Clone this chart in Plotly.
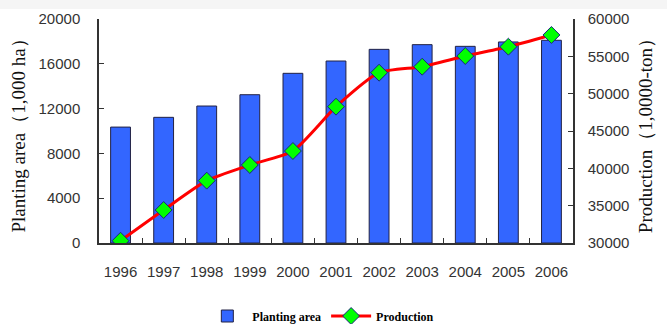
import plotly.graph_objects as go

years = ["1996", "1997", "1998", "1999", "2000", "2001", "2002", "2003", "2004", "2005", "2006"]
planting_area = [10350, 11220, 12230, 13240, 15150, 16250, 17290, 17710, 17560, 17950, 18100]
production = [30300, 34420, 38350, 40450, 42320, 48260, 52810, 53610, 55040, 56290, 57860]
left_ticks = [0, 4000, 8000, 12000, 16000, 20000]
right_ticks = [30000, 35000, 40000, 45000, 50000, 55000, 60000]

W, H = 667, 324
L, R, T, B = 99, 94, 19, 81
ph = H - T - B

fig = go.Figure()
fig.add_trace(go.Bar(
    x=years, y=planting_area, name="Planting area",
    marker=dict(color="#3366ff", line=dict(color="#222244", width=1)),
    width=0.46, yaxis="y",
))
fig.add_trace(go.Scatter(
    x=years, y=production, name="Production", yaxis="y2",
    mode="lines+markers",
    line=dict(color="#ff0000", width=3, shape="spline", smoothing=0.6),
    marker=dict(symbol="diamond", color="#00ff00", size=13, line=dict(color="#1a237e", width=1)),
))

tickfont = dict(family="Liberation Sans, Arial", size=15, color="#333333")
titlefont = dict(family="Liberation Serif, Times New Roman", size=19, color="#111111")

fig.update_layout(
    width=W, height=H,
    margin=dict(l=L, r=R, t=T, b=B, pad=0, autoexpand=False),
    paper_bgcolor="white", plot_bgcolor="white",
    showlegend=True,
    legend=dict(orientation="h", x=0.468, xanchor="center", yref="container",
                y=8 / H, yanchor="middle",
                font=dict(family="Liberation Serif, Times New Roman", size=12, color="#000000",
                          weight="bold"),
                traceorder="normal", itemwidth=40, bgcolor="rgba(0,0,0,0)"),
    xaxis=dict(type="category", showline=True, linecolor="#333333", linewidth=1.5,
               ticks="inside", ticklen=5, tickcolor="#333333", tickson="boundaries",
               tickfont=tickfont, tickangle=0, showgrid=False, range=[-0.5, 10.5],
               ticklabelstandoff=14),
    yaxis=dict(range=[0, 20000], tickvals=left_ticks, ticktext=[str(v) for v in left_ticks],
               showline=True, linecolor="#333333",
               linewidth=1.5, ticks="inside", ticklen=5, tickcolor="#333333",
               tickfont=tickfont, showgrid=False, zeroline=False, ticklabelstandoff=14,
               title=dict(text="Planting area（1,000 ha）", font=titlefont, standoff=8)),
    yaxis2=dict(range=[30000, 60000], tickvals=right_ticks, ticktext=[str(v) for v in right_ticks],
                overlaying="y", side="right",
                showline=True, linecolor="#333333", linewidth=1.5, ticks="inside", ticklen=5,
                tickcolor="#333333", tickfont=tickfont, showgrid=False, zeroline=False,
                ticklabelstandoff=10,
                title=dict(text="Production（1,0000-ton）", font=titlefont, standoff=10)),
    bargap=0.5,
    shapes=[dict(type="rect", xref="paper", yref="paper", x0=-1, x1=2,
                 y0=(H - B - 9) / ph, y1=(H - B) / ph, fillcolor="#f5f5f5",
                 line=dict(width=0), layer="below")],
)

fig.write_html("out.html")
